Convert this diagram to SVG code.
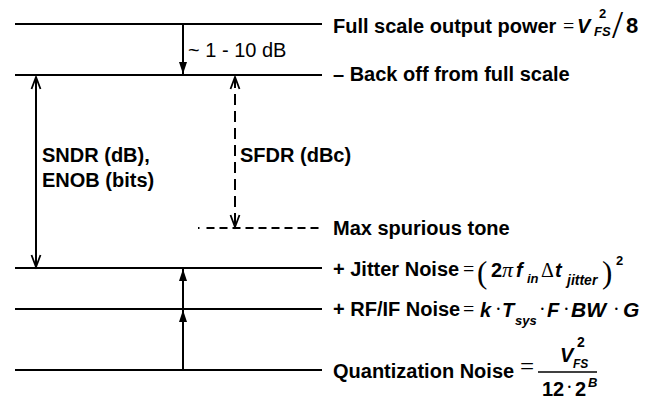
<svg xmlns="http://www.w3.org/2000/svg" width="656" height="400" viewBox="0 0 656 400">
<defs>
<marker id="tri" viewBox="0 0 12 8" refX="12" refY="4" markerWidth="12" markerHeight="8" markerUnits="userSpaceOnUse" orient="auto-start-reverse">
<path d="M0,0 L12,4 L0,8 z" fill="#000"/>
</marker>
<marker id="chev" viewBox="-1 -1 14 11" refX="12" refY="4.5" markerWidth="14" markerHeight="11" markerUnits="userSpaceOnUse" orient="auto-start-reverse" overflow="visible">
<path d="M0,0 L12,4.5 L0,9" fill="none" stroke="#000" stroke-width="1.8"/>
</marker>
<style>
.lvl{stroke:#000;stroke-width:2.2;fill:none}
.dash{stroke:#000;stroke-width:2;fill:none}
.conn{stroke:#000;stroke-width:2;fill:none}
.t{font-family:"Liberation Sans",Arial,sans-serif;font-weight:bold;font-size:20px;fill:#000}
.r{font-family:"Liberation Sans",Arial,sans-serif;font-size:20px;fill:#000}
.v{font-family:"Liberation Sans",Arial,sans-serif;font-weight:bold;font-style:italic;font-size:20px;fill:#000}
.vs{font-family:"Liberation Sans",Arial,sans-serif;font-weight:bold;font-style:italic;font-size:13px;fill:#000}
.n{font-family:"Liberation Sans",Arial,sans-serif;font-weight:bold;font-size:20px;fill:#000}
.ns{font-family:"Liberation Sans",Arial,sans-serif;font-weight:bold;font-size:13px;fill:#000}
.m{font-family:"Liberation Serif","DejaVu Serif",serif;font-size:20px;fill:#000}
.mi{font-family:"Liberation Serif","DejaVu Serif",serif;font-style:italic;font-size:22px;fill:#000}
.big{font-family:"Liberation Serif","DejaVu Serif",serif;font-size:31px;fill:#000}
</style>
</defs>

<g id="full-scale">
<line class="lvl" x1="15" y1="24" x2="322" y2="24"/>
<text class="t" x="333" y="33">Full scale output power</text>
<text class="m" x="563" y="33">=</text>
<text class="v" x="577" y="33">V</text>
<text class="ns" x="599" y="18">2</text>
<text class="vs" x="594" y="36">FS</text>
<text class="m" x="612" y="38" style="font-size:40px">/</text>
<text class="n" x="626" y="33" style="font-size:22px">8</text>
</g>

<g id="back-off">
<line class="lvl" x1="15" y1="75" x2="322" y2="75"/>
<text class="t" x="333" y="81">– Back off from full scale</text>
</g>

<g id="max-spur">
<line class="dash" x1="198" y1="228" x2="322" y2="228" stroke-dasharray="1.5 7 8 5 8 5 8 5 8 5 8 5 8 5 8 5 8 5 8 5"/>
<text class="t" x="333" y="235">Max spurious tone</text>
</g>

<g id="jitter">
<line class="lvl" x1="15" y1="268" x2="322" y2="268"/>
<text class="t" x="333" y="276">+ Jitter Noise</text>
<text class="m" x="463" y="276">=</text>
<text class="big" x="477" y="283">(</text>
<text class="n" x="491" y="277">2</text>
<text class="mi" x="502" y="277">π</text>
<text class="v" x="516" y="277">f</text>
<text class="vs" x="527" y="283">in</text>
<text class="m" x="541" y="277">Δ</text>
<text class="v" x="555" y="277">t</text>
<text class="vs" x="567" y="285" style="font-size:14px">jitter</text>
<text class="big" x="602" y="283">)</text>
<text class="ns" x="616" y="265">2</text>
</g>

<g id="rfif">
<line class="lvl" x1="15" y1="309" x2="322" y2="309"/>
<text class="t" x="333" y="316">+ RF/IF Noise</text>
<text class="m" x="463" y="316">=</text>
<text class="v" x="480" y="317">k</text>
<text class="m" x="495" y="316">·</text>
<text class="v" x="502" y="317">T</text>
<text class="vs" x="515" y="325">sys</text>
<text class="m" x="539" y="316">·</text>
<text class="v" x="547" y="317">F</text>
<text class="m" x="563" y="316">·</text>
<text class="v" x="571" y="317" style="font-size:21px">BW</text>
<text class="m" x="613" y="316">·</text>
<text class="v" x="623" y="317" style="font-size:21px">G</text>
</g>

<g id="quant">
<line class="lvl" x1="15" y1="370" x2="322" y2="370"/>
<text class="t" x="333" y="378">Quantization Noise</text>
<text class="m" x="520" y="375" style="font-size:25px">=</text>
<line x1="538" y1="372" x2="597" y2="372" stroke="#000" stroke-width="1.3"/>
<text class="v" x="560" y="362">V</text>
<text class="ns" x="577" y="347" style="font-size:14px">2</text>
<text class="vs" x="573" y="368" style="font-size:12px">FS</text>
<text class="n" x="542" y="396">12</text>
<text class="m" x="566" y="394">·</text>
<text class="n" x="575" y="396">2</text>
<text class="vs" x="588" y="387">B</text>
</g>

<g id="labels">
<text class="r" x="188" y="57">~ 1 - 10 dB</text>
<text class="t" x="42" y="162">SNDR (dB),</text>
<text class="t" x="42" y="187">ENOB (bits)</text>
<text class="t" x="240" y="162">SFDR (dBc)</text>
</g>

<g id="connectors">
<line class="conn" x1="183" y1="25" x2="183" y2="74" marker-end="url(#tri)"/>
<line class="conn" x1="36" y1="77" x2="36" y2="267" marker-start="url(#chev)" marker-end="url(#chev)"/>
<line class="conn" x1="235" y1="77" x2="235" y2="227" stroke-dasharray="11 6" marker-start="url(#chev)" marker-end="url(#chev)"/>
<line class="conn" x1="183" y1="369" x2="183" y2="310" marker-end="url(#tri)"/>
<line class="conn" x1="183" y1="309" x2="183" y2="269" marker-end="url(#tri)"/>
</g>
</svg>
